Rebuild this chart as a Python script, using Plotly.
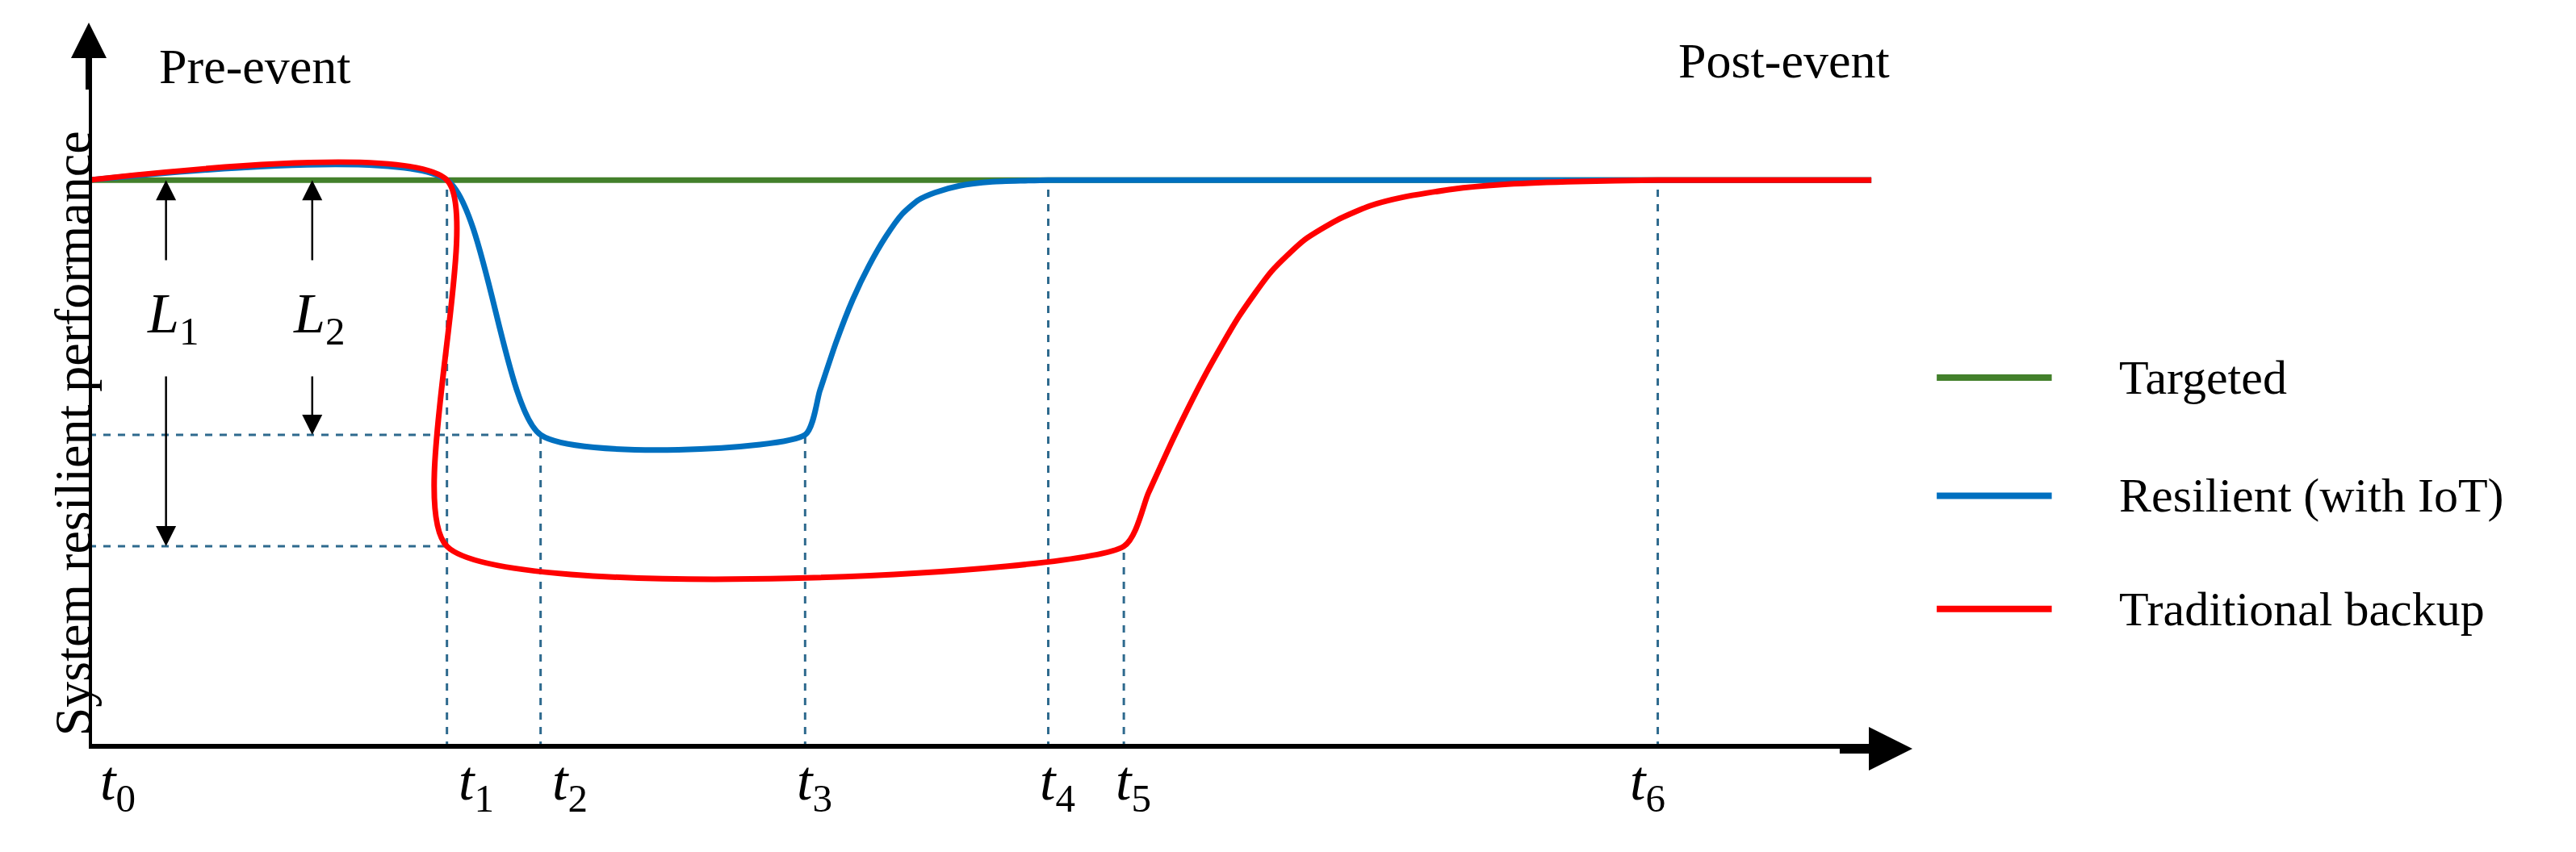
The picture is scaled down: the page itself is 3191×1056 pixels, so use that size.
import plotly.graph_objects as go

W, H = 3191, 1056
S = 2.035  # displayed->full scale
L, R, T, B = 102, 3191 - 2361, 20, 1056 - 920
XMAX, YMAX = 1110, 1.277

# time marks (x units)
t_names = ["t0", "t1", "t2", "t3", "t4", "t5", "t6"]
t_x = [0, 218, 275, 436, 584, 630, 955]
x_end = 1085

# series
targ_x = [0, x_end]
targ_y = [1, 1]
res_x = [0, 218, 275, 436, 445, 455, 465, 475, 485, 495, 505, 515, 530, 550, 570, 584, x_end]
res_y = [1, 1, 0.552, 0.552, 0.63, 0.716, 0.79, 0.85, 0.90, 0.94, 0.965, 0.978, 0.99, 0.997, 0.999, 1, 1]
trad_x = [0, 218, 218, 630, 645, 660, 680, 700, 720, 740, 760, 780, 800, 830, 860, 900, 955, x_end]
trad_y = [1, 1, 0.356, 0.356, 0.45, 0.545, 0.66, 0.76, 0.84, 0.895, 0.93, 0.955, 0.97, 0.984, 0.992, 0.997, 1, 1]
names = ["Targeted", "Resilient (with IoT)", "Traditional backup"]
colors = ["#43802b", "#0070c0", "#ff0000"]
dash_col = "#2e6a8e"
FONT = "Liberation Serif"

fig = go.Figure()
for xs, ys, n, c in zip([targ_x, res_x, trad_x], [targ_y, res_y, trad_y], names, colors):
    fig.add_trace(go.Scatter(x=xs, y=ys, mode="lines", name=n, line_shape="spline",
                             line=dict(color=c, width=7, smoothing=0.6), showlegend=False))

def px2paper(px, py):
    return (px - L) / (W - L - R), (H - B - py) / (H - T - B)

shapes = []
v_top = [1, 1, 0.552, 0.552, 1, 0.356, 1]
for x, yt in zip(t_x[1:], v_top[1:]):
    shapes.append(dict(type="line", x0=x, x1=x, y0=0, y1=yt, xref="x", yref="y",
                       line=dict(color=dash_col, width=3, dash="dash"), layer="below"))
shapes.append(dict(type="line", x0=0, x1=275, y0=0.552, y1=0.552, line=dict(color=dash_col, width=3, dash="dash"), layer="below"))
shapes.append(dict(type="line", x0=0, x1=218, y0=0.356, y1=0.356, line=dict(color=dash_col, width=3, dash="dash"), layer="below"))
shapes.append(dict(type="line", x0=0, x1=XMAX - 25, y0=0, y1=0, line=dict(color="black", width=12)))
shapes.append(dict(type="line", x0=0, x1=0, y0=0, y1=YMAX - 0.08, line=dict(color="black", width=8)))

leg_y = [226, 298, 367]
for n, c, ly in zip(names, colors, leg_y):
    x0, y0 = px2paper(1175 * S, ly * S)
    x1, _ = px2paper(1245 * S, ly * S)
    shapes.append(dict(type="line", xref="paper", yref="paper", x0=x0, x1=x1, y0=y0, y1=y0,
                       line=dict(color=c, width=8)))

ann = []
for n, ly in zip(names, leg_y):
    x0, y0 = px2paper(1285 * S, ly * S)
    ann.append(dict(xref="paper", yref="paper", x=x0, y=y0, text=n, showarrow=False,
                    xanchor="left", yanchor="middle", font=dict(family=FONT, size=60, color="black")))

ann.append(dict(x=XMAX, y=0, ax=XMAX - 45, ay=0, axref="x", ayref="y", xref="x", yref="y",
                showarrow=True, arrowhead=2, arrowsize=0.9, arrowwidth=12, arrowcolor="black", text=""))
ann.append(dict(x=0, y=YMAX, ax=0, ay=YMAX - 0.12, axref="x", ayref="y", xref="x", yref="y",
                showarrow=True, arrowhead=2, arrowsize=1.1, arrowwidth=8, arrowcolor="black", text=""))

for n, x in zip(t_names, t_x):
    xp, yp = px2paper(L + x * S + 12, 497 * S)
    ann.append(dict(xref="paper", yref="paper", x=xp, y=yp, text=f"<i>t</i><sub>{n[1]}</sub>",
                    showarrow=False, font=dict(family=FONT, size=70, color="black")))

lab_y = 0.757
for lx, low, lab in [(47, 0.356, "1"), (136, 0.552, "2")]:
    ann.append(dict(x=lx + 4, y=lab_y, text=f"<i>L</i><sub>{lab}</sub>", showarrow=False,
                    font=dict(family=FONT, size=70, color="black")))
    ann.append(dict(x=lx, y=1, ax=lx, ay=lab_y + 0.1, axref="x", ayref="y", text="",
                    showarrow=True, arrowhead=2, arrowsize=2, arrowwidth=2.5, arrowcolor="black"))
    ann.append(dict(x=lx, y=low, ax=lx, ay=lab_y - 0.1, axref="x", ayref="y", text="",
                    showarrow=True, arrowhead=2, arrowsize=2, arrowwidth=2.5, arrowcolor="black"))

ann.append(dict(x=42, y=1.2, text="Pre-event", showarrow=False, xanchor="left",
                font=dict(family=FONT, size=62, color="black")))
ann.append(dict(x=1097, y=1.21, text="Post-event", showarrow=False, xanchor="right",
                font=dict(family=FONT, size=62, color="black")))
xp, yp = px2paper(22 * S, 260 * S)
ann.append(dict(xref="paper", yref="paper", x=xp, y=yp, text="System resilient performance",
                textangle=-90, showarrow=False, font=dict(family=FONT, size=64, color="black")))

fig.update_layout(width=W, height=H, margin=dict(l=L, r=R, t=T, b=B),
                  paper_bgcolor="white", plot_bgcolor="white", shapes=shapes, annotations=ann,
                  xaxis=dict(range=[0, XMAX], visible=False, fixedrange=True),
                  yaxis=dict(range=[0, YMAX], visible=False, fixedrange=True))
fig.write_html("out.html")
